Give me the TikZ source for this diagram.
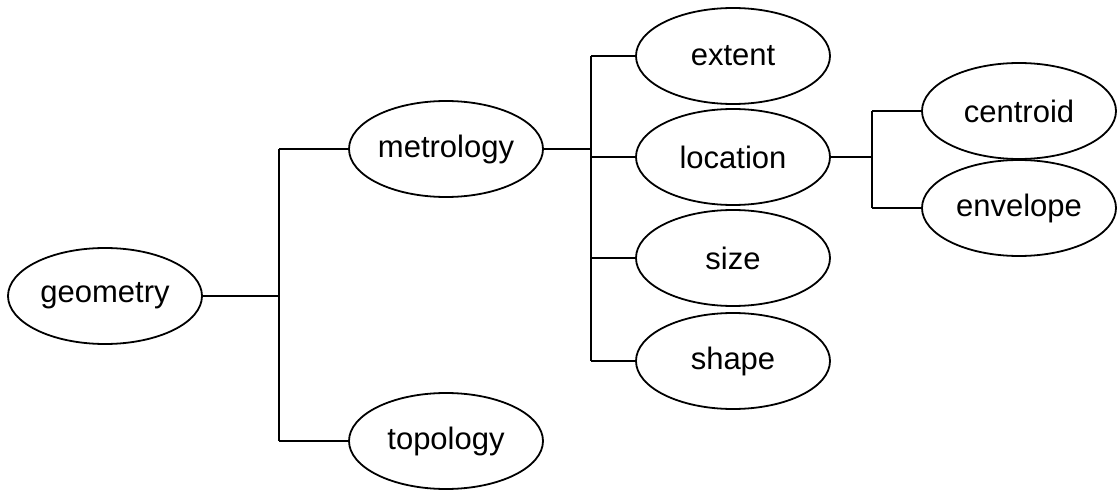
\documentclass[tikz,border=0pt]{standalone}
\usepackage{fontspec}
\setmainfont{Liberation Sans}
\usetikzlibrary{shapes.geometric}
\begin{document}
\begin{tikzpicture}[x=1pt,y=-1pt,
  term/.style={ellipse,draw,line width=1.8pt,minimum width=194pt,minimum height=96pt,inner sep=0pt,font=\fontsize{31}{36}\selectfont},
  link/.style={line width=1.8pt}]
\useasboundingbox (0,0) rectangle (1120,492);
\node[term] (geometry) at (105,296) {geometry};
\node[term] (metrology) at (446,149) {metrology};
\node[term] (topology) at (446,441) {topology};
\node[term] (extent) at (733,56) {extent};
\node[term] (location) at (733,157) {location};
\node[term] (size) at (733,258) {size};
\node[term] (shape) at (733,361) {shape};
\node[term] (centroid) at (1019,111) {centroid};
\node[term] (envelope) at (1019,208) {envelope};
\coordinate (jg) at (279,296);
\coordinate (jm) at (591,149);
\coordinate (jl) at (872,157);
% geometry branch
\draw[link] (geometry.east) -- (jg);
\draw[link] (jg |- metrology.west) -- (jg |- topology.west);
\draw[link] (jg |- metrology.west) -- (metrology.west);
\draw[link] (jg |- topology.west) -- (topology.west);
% metrology branch
\draw[link] (metrology.east) -- (jm);
\draw[link] (jm |- extent.west) -- (jm |- shape.west);
\draw[link] (jm |- extent.west) -- (extent.west);
\draw[link] (jm |- location.west) -- (location.west);
\draw[link] (jm |- size.west) -- (size.west);
\draw[link] (jm |- shape.west) -- (shape.west);
% location branch
\draw[link] (location.east) -- (jl);
\draw[link] (jl |- centroid.west) -- (jl |- envelope.west);
\draw[link] (jl |- centroid.west) -- (centroid.west);
\draw[link] (jl |- envelope.west) -- (envelope.west);
\end{tikzpicture}
\end{document}
